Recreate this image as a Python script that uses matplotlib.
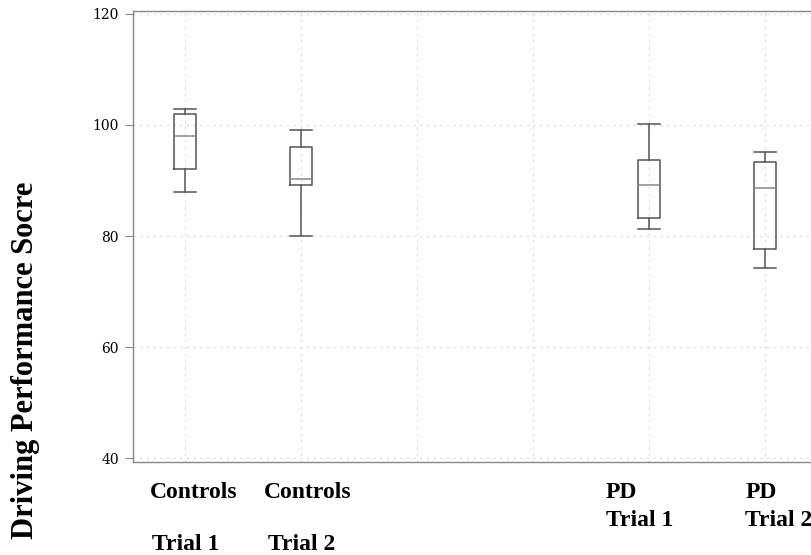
import matplotlib
matplotlib.use("Agg")
import matplotlib.pyplot as plt

# group positions along x (two empty slots between controls and PD)
positions = [1, 2, 5, 6]
group_names = ["Controls", "Controls", "PD", "PD"]
trial_names = ["Trial 1", "Trial 2", "Trial 1", "Trial 2"]

# box statistics
whislo = [88.0, 80.0, 81.3, 74.3]
q1 = [92.0, 89.2, 83.3, 77.7]
med = [98.1, 90.3, 89.2, 88.7]
q3 = [102.0, 96.1, 93.7, 93.3]
whishi = [102.9, 99.1, 100.1, 95.2]

y_ticks = [40, 60, 80, 100, 120]

stats = []
for lo, a, m, b, hi in zip(whislo, q1, med, q3, whishi):
    stats.append({"whislo": lo, "q1": a, "med": m, "q3": b, "whishi": hi, "fliers": []})

fig = plt.figure(figsize=(8.11, 5.55), dpi=100)
ax = fig.add_axes([133 / 811, 1 - 462 / 555, 1 - 133 / 811, 451 / 555])

box_color = "#555555"
ax.bxp(stats, positions=positions, widths=0.19, showfliers=False,
       boxprops=dict(color=box_color, linewidth=1.1),
       whiskerprops=dict(color=box_color, linewidth=1.1),
       capprops=dict(color=box_color, linewidth=1.1),
       medianprops=dict(color="#888888", linewidth=1.1),
       capwidths=0.19)

ax.set_xlim(0.552, 6.397)
ax.set_ylim(39.28, 120.54)
ax.set_xticks([1, 2, 3, 4, 5, 6])
ax.set_xticklabels([])
ax.tick_params(axis="x", length=0)
ax.set_yticks(y_ticks)
ax.set_yticklabels([str(t) for t in y_ticks], fontfamily="DejaVu Serif", fontsize=10)
ax.tick_params(axis="y", length=6, width=0.8, color="#888888", pad=4)
ax.grid(True, color="#d8d8d8", linestyle=(0, (2, 4)), linewidth=0.8)
ax.set_axisbelow(True)

for side in ["left", "top", "bottom"]:
    ax.spines[side].set_color("#888888")
    ax.spines[side].set_linewidth(1.0)
ax.spines["right"].set_visible(False)

label_font = dict(family="Liberation Serif", weight="bold", fontsize=17)
xt = ax.get_xaxis_transform()
# controls labels: name, blank line, trial
ax.text(0.70, -0.068, group_names[0], transform=xt, ha="left", va="center", **label_font)
ax.text(0.72, -0.183, trial_names[0], transform=xt, ha="left", va="center", **label_font)
ax.text(1.68, -0.068, group_names[1], transform=xt, ha="left", va="center", **label_font)
ax.text(1.72, -0.183, trial_names[1], transform=xt, ha="left", va="center", **label_font)
# PD labels stacked tight
ax.text(4.63, -0.068, group_names[2], transform=xt, ha="left", va="center", **label_font)
ax.text(4.63, -0.13, trial_names[2], transform=xt, ha="left", va="center", **label_font)
ax.text(5.83, -0.068, group_names[3], transform=xt, ha="left", va="center", **label_font)
ax.text(5.83, -0.13, trial_names[3], transform=xt, ha="left", va="center", **label_font)

fig.text(0.031, 1 - 182 / 555, "Driving Performance Socre", rotation=90,
         ha="center", va="top", family="Liberation Serif", weight="bold", fontsize=22)

fig.savefig("out.png", dpi=100)
